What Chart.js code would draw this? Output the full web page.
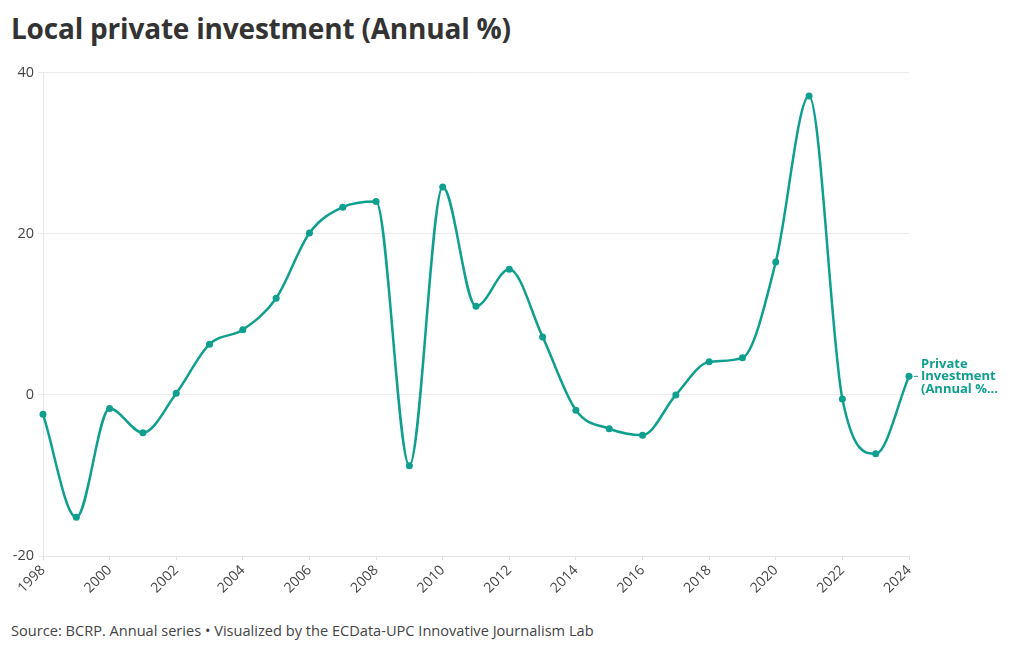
<!DOCTYPE html>
<html>
<head>
<meta charset="utf-8">
<script src="https://cdn.jsdelivr.net/npm/chart.js@4"></script>
<style>
  body { margin: 0; background: #fff; width: 1020px; height: 650px; position: relative; overflow: hidden; font-family: "Open Sans", sans-serif; }
  #title { position: absolute; left: 11px; top: 9px; font: bold 28px "Open Sans", sans-serif; color: #333; letter-spacing: -0.2px; }
  #source { position: absolute; left: 11px; top: 620px; font: 14.6px "Open Sans", sans-serif; color: #444; }
  #wrap { position: absolute; left: 0; top: 60px; width: 1020px; height: 550px; }
</style>
</head>
<body>
<div id="title">Local private investment (Annual %)</div>
<div id="wrap"><canvas id="chart"></canvas></div>
<div id="source">Source: BCRP. Annual series • Visualized by the ECData-UPC Innovative Journalism Lab</div>
<script>
const years = ['1998','1999','2000','2001','2002','2003','2004','2005','2006','2007','2008','2009','2010',
  '2011','2012','2013','2014','2015','2016','2017','2018','2019','2020','2021','2022','2023','2024'];
const investment = [-2.4, -15.2, -1.7, -4.7, 0.2, 6.3, 8.1, 12.0, 20.1, 23.3, 24.0, -8.8, 25.8,
  11.0, 15.6, 7.2, -1.9, -4.2, -5.0, 0.0, 4.1, 4.6, 16.5, 37.1, -0.5, -7.3, 2.3];
const yTicks = [-20, 0, 20, 40];
const seriesName = ['Private', 'Investment', '(Annual %...'];
const teal = '#0f9f8e';

// label at the end of the line
const endLabel = {
  id: 'endLabel',
  afterDatasetsDraw(chart) {
    const meta = chart.getDatasetMeta(0);
    const pt = meta.data[meta.data.length - 1];
    const ctx = chart.ctx;
    ctx.save();
    ctx.strokeStyle = teal;
    ctx.lineWidth = 1;
    ctx.beginPath();
    ctx.moveTo(pt.x + 5, pt.y);
    ctx.lineTo(pt.x + 9, pt.y);
    ctx.stroke();
    ctx.fillStyle = teal;
    ctx.font = 'bold 13px "Open Sans", sans-serif';
    ctx.textBaseline = 'middle';
    seriesName.forEach((t, i) => {
      ctx.fillText(t, pt.x + 12, pt.y + (i - 1) * 12.5);
    });
    ctx.restore();
  }
};

new Chart(document.getElementById('chart'), {
  type: 'line',
  data: {
    labels: years,
    datasets: [{
      label: 'Private Investment (Annual %)',
      data: investment,
      borderColor: teal,
      backgroundColor: teal,
      borderWidth: 2.5,
      pointRadius: 3.5,
      pointBorderWidth: 0,
      cubicInterpolationMode: 'monotone',
      clip: false
    }]
  },
  options: {
    responsive: true,
    maintainAspectRatio: false,
    animation: false,
    layout: { padding: { top: 10, right: 111, left: 0, bottom: 0 } },
    plugins: { legend: { display: false }, tooltip: { enabled: false } },
    scales: {
      x: {
        afterFit: s => { s.height = 54; },
        grid: {
          drawOnChartArea: false,
          drawTicks: true,
          tickLength: 4,
          color: c => (c.index % 2 === 0 ? '#dcdcdc' : 'rgba(0,0,0,0)')
        },
        border: { color: '#e6e6e6' },
        ticks: {
          autoSkip: false,
          maxRotation: 45,
          minRotation: 45,
          padding: 2,
          color: '#444',
          font: { family: '"Open Sans", sans-serif', size: 14 },
          callback: function(v, i) { return i % 2 === 0 ? years[i] : ''; }
        }
      },
      y: {
        min: -20,
        max: 40,
        afterFit: s => { s.width = 43; },
        afterBuildTicks: s => { s.ticks = yTicks.map(v => ({ value: v })); },
        grid: { color: '#ececec', tickLength: 5 },
        border: { color: '#e6e6e6' },
        ticks: {
          color: '#444',
          padding: 4,
          font: { family: '"Open Sans", sans-serif', size: 14.5 }
        }
      }
    }
  },
  plugins: [endLabel]
});
</script>
</body>
</html>
